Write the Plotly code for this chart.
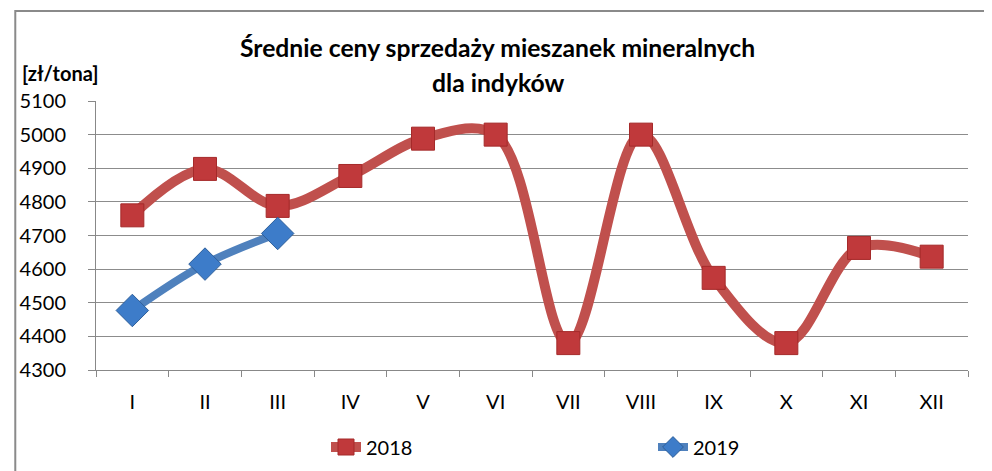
import plotly.graph_objects as go

months = ["I", "II", "III", "IV", "V", "VI", "VII", "VIII", "IX", "X", "XI", "XII"]
values_2018 = [4760, 4898, 4788, 4877, 4988, 5000, 4380, 5000, 4574, 4380, 4663, 4637]
months_2019 = ["I", "II", "III"]
values_2019 = [4477, 4615, 4706]
y_ticks = [4300, 4400, 4500, 4600, 4700, 4800, 4900, 5000, 5100]

FONT = "Lato"
W, H = 992, 471
OFF = 8  # page body margin
L, T = 93 - OFF, 101 - OFF
R = W - (968 - OFF)
B = H - (370 - OFF)
pw, ph = W - L - R, H - T - B


def px(xabs):
    return (xabs - OFF - L) / pw


def py(yabs):
    return 1 - (yabs - OFF - T) / ph


fig = go.Figure()
fig.add_trace(go.Scatter(
    x=months, y=values_2018, name="2018", mode="lines+markers", legend="legend",
    line=dict(color="#C0504D", width=10, shape="spline", smoothing=1.0),
    marker=dict(symbol="square", size=23, color="#C0393B",
                line=dict(color="#A52A2A", width=1)),
))
fig.add_trace(go.Scatter(
    x=months_2019, y=values_2019, name="2019", mode="lines+markers", legend="legend2",
    line=dict(color="#4F81BD", width=8, shape="spline", smoothing=1.0),
    marker=dict(symbol="diamond", size=25, color="#3D7CC9",
                line=dict(color="#2E5F9A", width=1)),
))

leg_common = dict(orientation="h", xref="container", yref="container",
                  y=1 - (447 - OFF) / H, yanchor="middle", xanchor="left",
                  font=dict(size=20), bgcolor="rgba(0,0,0,0)")

fig.update_layout(
    width=W, height=H,
    margin=dict(l=L, r=R, t=T, b=B),
    paper_bgcolor="white", plot_bgcolor="white",
    font=dict(family=FONT, size=20, color="black"),
    showlegend=True,
    legend=dict(x=(331 - OFF - 5) / W, **leg_common),
    legend2=dict(x=(658 - OFF - 5) / W, **leg_common),
    xaxis=dict(type="category", categoryorder="array", categoryarray=months,
               range=[-0.5, 11.5], tickson="boundaries", ticks="outside",
               ticklen=6, tickcolor="#888", showline=True, linecolor="#888",
               linewidth=1, showgrid=False, tickfont=dict(size=20),
               ticklabelstandoff=14),
    yaxis=dict(range=[4300, 5100], tickvals=y_ticks, ticks="outside", ticklen=7,
               tickcolor="#888", showline=True, linecolor="#888", linewidth=1,
               showgrid=True, gridcolor="#8c8c8c", gridwidth=1,
               tickfont=dict(size=20), zeroline=False, ticklabelstandoff=18),
    annotations=[
        dict(text="<b>Średnie ceny sprzedaży mieszanek mineralnych</b>",
             xref="paper", yref="paper", x=px(496), y=py(47),
             xanchor="center", yanchor="middle", showarrow=False,
             font=dict(size=24.7, family=FONT)),
        dict(text="<b>dla indyków</b>",
             xref="paper", yref="paper", x=px(496), y=py(82),
             xanchor="center", yanchor="middle", showarrow=False,
             font=dict(size=24.7, family=FONT)),
        dict(text="<b>[zł/tona]</b>", xref="paper", yref="paper",
             x=px(17), y=py(73), xanchor="left", yanchor="middle",
             showarrow=False, font=dict(size=20, family=FONT)),
    ],
    shapes=[
        dict(type="rect", xref="paper", yref="paper",
             x0=px(12), x1=px(1010), y0=py(490), y1=py(11),
             line=dict(color="#8a8a8a", width=2), layer="below"),
    ],
)

fig.write_html("out.html")
